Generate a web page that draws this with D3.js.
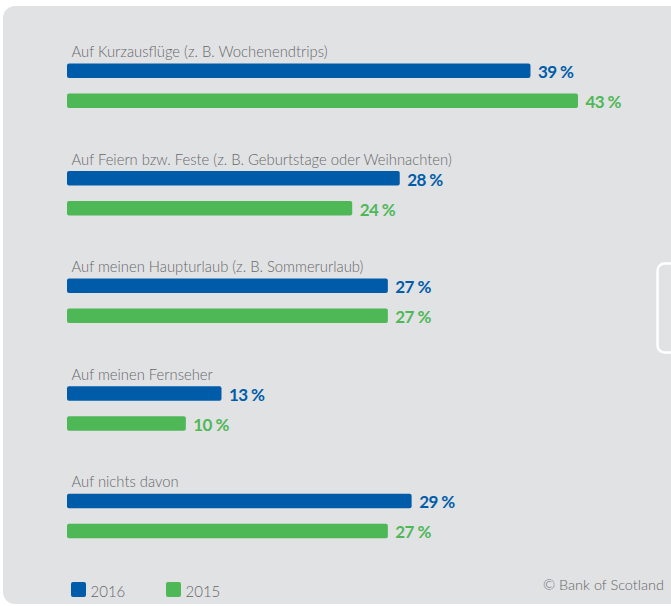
<!DOCTYPE html>
<meta charset="utf-8">
<script src="https://cdn.jsdelivr.net/npm/d3@7/dist/d3.min.js"></script>
<style>
  body { margin: 0; background: #fff; }
  svg { display: block; }
</style>
<svg width="671" height="606"></svg>
<script>
// chart data
var categories = [
  "Auf Kurzausflüge (z. B. Wochenendtrips)",
  "Auf Feiern bzw. Feste (z. B. Geburtstage oder Weihnachten)",
  "Auf meinen Haupturlaub (z. B. Sommerurlaub)",
  "Auf meinen Fernseher",
  "Auf nichts davon"
];
var values2016 = [39, 28, 27, 13, 29];
var values2015 = [43, 24, 27, 10, 27];
var years = ["2016", "2015"];
var source = "© Bank of Scotland";

var colors = { "2016": "#005ca9", "2015": "#4eb857" };

var svg = d3.select("svg"),
  width = +svg.attr("width"),
  height = +svg.attr("height");

//Background panel
svg.append("rect")
  .attr("x", 3).attr("y", 6)
  .attr("width", 690).attr("height", 598)
  .attr("rx", 12)
  .attr("fill", "#e1e2e4");

//Small tab at the right edge
svg.append("rect")
  .attr("x", 657.5).attr("y", 263.5)
  .attr("width", 30).attr("height", 89)
  .attr("rx", 7)
  .attr("fill", "none")
  .attr("stroke", "#fff")
  .attr("stroke-width", 2.5);

//Scales
var x = d3.scaleLinear().domain([0, 43]).range([67, 578]);
var groupY = d3.scaleBand().domain(categories).range([57, 57 + 5 * 107.55]);
var barH = 14.5;

var rows = categories.map(function(c, i) {
  return { name: c, values: [
    { year: "2016", v: values2016[i] },
    { year: "2015", v: values2015[i] }
  ] };
});

var group = svg.append("g").selectAll("g")
  .data(rows)
  .enter()
  .append("g")
  .attr("transform", function(d) { return "translate(0," + groupY(d.name) + ")"; });

//Category labels
group.append("text")
  .attr("x", 71.5)
  .attr("y", 0)
  .attr("font-family", "Lato, sans-serif")
  .attr("font-weight", 300)
  .attr("font-size", 14.8)
  .attr("fill", "#67686a")
  .text(function(d) { return d.name; });

//Bars
var bar = group.selectAll("g.bar")
  .data(function(d) { return d.values; })
  .enter()
  .append("g")
  .attr("class", "bar");

bar.append("rect")
  .attr("x", x(0))
  .attr("y", function(d, i) { return i * 30 + 6.5; })
  .attr("width", function(d) { return x(d.v) - x(0); })
  .attr("height", barH)
  .attr("rx", 2)
  .attr("fill", function(d) { return colors[d.year]; });

//Value labels
bar.append("text")
  .attr("x", function(d) { return x(d.v) + 7.5; })
  .attr("y", function(d, i) { return i * 30 + 6.5 + barH; })
  .attr("font-family", "Lato, sans-serif")
  .attr("font-weight", "bold")
  .attr("font-size", 17)
  .attr("letter-spacing", -0.6)
  .attr("fill", function(d) { return colors[d.year]; })
  .text(function(d) { return d.v + " %"; });

//Legend
var legend = svg.append("g").selectAll("g")
  .data(years)
  .enter()
  .append("g")
  .attr("transform", function(d, i) { return "translate(" + (71 + i * 95) + ",582)"; });

legend.append("rect")
  .attr("width", 15).attr("height", 15)
  .attr("rx", 2)
  .attr("fill", function(d) { return colors[d]; });

legend.append("text")
  .attr("x", 19.5)
  .attr("y", 14.8)
  .attr("font-family", "Lato, sans-serif")
  .attr("font-weight", 300)
  .attr("font-size", 15)
  .attr("fill", "#67686a")
  .text(function(d) { return d; });

//Source
svg.append("text")
  .attr("x", 664)
  .attr("y", 590)
  .attr("text-anchor", "end")
  .attr("font-family", "Lato, sans-serif")
  .attr("font-weight", 300)
  .attr("font-size", 14.5)
  .attr("fill", "#67686a")
  .text(source);
</script>
